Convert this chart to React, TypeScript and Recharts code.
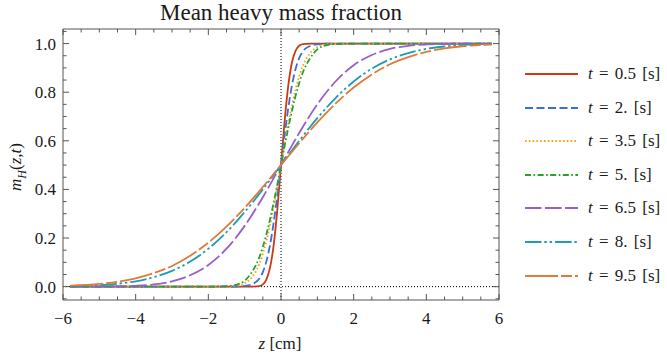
import React from 'react';
import { LineChart, Line, XAxis, YAxis, ReferenceLine } from 'recharts';

const FONT = "'Liberation Serif', 'Times New Roman'";
const FRAME = '#555';
const INK = '#1a1a1a';

// geometry of the plot frame (px)
const PLOT_TOP = 29;
const PLOT_BOTTOM = 300;
const PLOT_LEFT = 63;
const PLOT_RIGHT = 499;

// z samples (cm)
const zSteep = [-5.8, -2, -1.5, -1.25, -1, -0.8, -0.6, -0.5, -0.4, -0.3, -0.2, -0.1, 0,
  0.1, 0.2, 0.3, 0.4, 0.5, 0.6, 0.8, 1, 1.25, 1.5, 2, 5.8];
const zWide = [-5.8, -5, -4.5, -4, -3.5, -3, -2.5, -2, -1.5, -1, -0.5, 0,
  0.5, 1, 1.5, 2, 2.5, 3, 3.5, 4, 4.5, 5, 5.8];

// m_H
const m05 = [0, 0, 0, 0, 0, 0.0001, 0.0023, 0.009, 0.03, 0.079, 0.173, 0.319, 0.5,
  0.681, 0.827, 0.921, 0.97, 0.991, 0.9977, 0.9999, 1, 1, 1, 1, 1];
const m2 = [0, 0, 0, 0.0005, 0.003, 0.01, 0.032, 0.06, 0.105, 0.173, 0.265, 0.377, 0.5,
  0.623, 0.735, 0.827, 0.895, 0.94, 0.968, 0.99, 0.997, 0.9995, 1, 1, 1];
const m35 = [0, 0, 0.0005, 0.003, 0.014, 0.039, 0.092, 0.135, 0.189, 0.254, 0.329, 0.412, 0.5,
  0.588, 0.671, 0.746, 0.811, 0.865, 0.908, 0.961, 0.986, 0.997, 0.9995, 1, 1];
const m5 = [0, 0, 0.002, 0.007, 0.024, 0.06, 0.119, 0.163, 0.216, 0.278, 0.347, 0.422, 0.5,
  0.578, 0.653, 0.722, 0.784, 0.837, 0.881, 0.94, 0.976, 0.993, 0.998, 1, 1];
const m65 = [0, 0.0004, 0.0012, 0.0035, 0.009, 0.022, 0.047, 0.089, 0.156, 0.25, 0.368, 0.5,
  0.632, 0.75, 0.844, 0.911, 0.953, 0.978, 0.991, 0.9965, 0.9988, 0.9996, 1];
const m8 = [0.002, 0.0055, 0.012, 0.022, 0.039, 0.065, 0.103, 0.156, 0.224, 0.307, 0.4, 0.5,
  0.6, 0.693, 0.776, 0.844, 0.897, 0.935, 0.961, 0.978, 0.988, 0.9945, 0.998];
const m95 = [0.004, 0.011, 0.02, 0.034, 0.056, 0.085, 0.127, 0.181, 0.247, 0.324, 0.41, 0.5,
  0.59, 0.676, 0.753, 0.819, 0.873, 0.915, 0.944, 0.966, 0.98, 0.989, 0.996];

const tLabels = ['0.5', '2.', '3.5', '5.', '6.5', '8.', '9.5'];

const xTicks = [-6, -5.5, -5, -4.5, -4, -3.5, -3, -2.5, -2, -1.5, -1, -0.5, 0,
  0.5, 1, 1.5, 2, 2.5, 3, 3.5, 4, 4.5, 5, 5.5, 6];
const xLabels = [-6, -4, -2, 0, 2, 4, 6];
const yTicks = [-0.05, 0, 0.05, 0.1, 0.15, 0.2, 0.25, 0.3, 0.35, 0.4, 0.45, 0.5, 0.55,
  0.6, 0.65, 0.7, 0.75, 0.8, 0.85, 0.9, 0.95, 1, 1.05];
const yLabels = [0, 0.2, 0.4, 0.6, 0.8, 1];

const toPoints = (zs: number[], ms: number[]) => zs.map((z, i) => ({ z, m: ms[i] }));

const SERIES = [
  { id: 's05', color: '#cc3a12', dash: undefined, data: toPoints(zSteep, m05) },
  { id: 's2', color: '#3b6fd6', dash: '8 3.5', data: toPoints(zSteep, m2) },
  { id: 's35', color: '#f9a21a', dash: '1.6 2.2', data: toPoints(zSteep, m35) },
  { id: 's5', color: '#28a02a', dash: '6 2.5 1.6 2.5', data: toPoints(zSteep, m5) },
  { id: 's65', color: '#9660c8', dash: '16.5 3.5', data: toPoints(zWide, m65) },
  { id: 's8', color: '#1c9db5', dash: '16.5 2.8 2.4 3 2.4 3', data: toPoints(zWide, m8) },
  { id: 's95', color: '#e07a38', dash: '33 3 11 3', data: toPoints(zWide, m95) },
];

const near = (v: number, list: number[]) => list.some((l) => Math.abs(l - v) < 1e-6);
const minus = (s: string) => s.replace('-', '\u2212');

function XTick(props: any) {
  const { x, payload } = props;
  const v = payload.value as number;
  const major = near(v, xLabels);
  const len = major ? 6 : 3.5;
  return (
    <g>
      <line x1={x} x2={x} y1={PLOT_BOTTOM} y2={PLOT_BOTTOM - len} stroke={FRAME} />
      <line x1={x} x2={x} y1={PLOT_TOP} y2={PLOT_TOP + len} stroke={FRAME} />
      {major && (
        <text x={x} y={324} textAnchor="middle" fill={INK} style={{ fontSize: 17, fontFamily: FONT }}>
          {minus(String(v))}
        </text>
      )}
    </g>
  );
}

function YTick(props: any) {
  const { y, payload } = props;
  const v = payload.value as number;
  const major = near(v, yLabels);
  const len = major ? 6 : 3.5;
  return (
    <g>
      <line x1={PLOT_LEFT} x2={PLOT_LEFT + len} y1={y} y2={y} stroke={FRAME} />
      <line x1={PLOT_RIGHT} x2={PLOT_RIGHT - len} y1={y} y2={y} stroke={FRAME} />
      {major && (
        <text x={56} y={y + 6} textAnchor="end" fill={INK} style={{ fontSize: 17, fontFamily: FONT }}>
          {v.toFixed(1)}
        </text>
      )}
    </g>
  );
}

function LegendBox() {
  return (
    <div style={{ position: 'absolute', left: 0, top: 0 }}>
      {SERIES.map((s, i) => {
        const cy = 74 + i * 33.6;
        return (
          <div key={s.id} style={{ position: 'absolute', left: 520, top: cy - 12, height: 24, width: 147 }}>
            <svg width={62} height={24} style={{ position: 'absolute', left: 0, top: 0 }}>
              <line x1={5} x2={58} y1={12} y2={12} stroke={s.color} strokeWidth={1.8} strokeDasharray={s.dash} />
            </svg>
            <div style={{
              position: 'absolute', left: 68, top: 1, fontFamily: FONT, fontSize: 17,
              color: INK, whiteSpace: 'nowrap', lineHeight: '22px', wordSpacing: '2px',
            }}>
              <i>t</i>{' = '}{tLabels[i]} [s]
            </div>
          </div>
        );
      })}
    </div>
  );
}

export default function App() {
  return (
    <div style={{ position: 'absolute', left: 0, top: 0, width: 667, height: 364, background: '#fff', fontFamily: FONT }}>
      <div style={{
        position: 'absolute', left: 60, width: 442, top: 0, textAlign: 'center',
        fontFamily: FONT, fontSize: 23, color: INK, lineHeight: '26px',
      }}>
        Mean heavy mass fraction
      </div>
      <LineChart width={667} height={364} margin={{ top: PLOT_TOP, right: 667 - PLOT_RIGHT, bottom: 0, left: 0 }}>
        <XAxis
          dataKey="z" type="number" domain={[-6, 6]} allowDataOverflow ticks={xTicks} interval={0}
          height={364 - PLOT_BOTTOM} tickSize={0} tickMargin={0} tick={<XTick />}
          axisLine={{ stroke: FRAME }} tickLine={false}
        />
        <YAxis
          type="number" domain={[-0.055, 1.06]} allowDataOverflow ticks={yTicks} interval={0}
          width={PLOT_LEFT} tickSize={0} tickMargin={0} tick={<YTick />}
          axisLine={{ stroke: FRAME }} tickLine={false}
        />
        <ReferenceLine y={1.06} stroke={FRAME} />
        <ReferenceLine x={6} stroke={FRAME} />
        <ReferenceLine x={0} stroke="#000" strokeDasharray="1 2" />
        <ReferenceLine y={0} stroke="#000" strokeDasharray="1 2" />
        {SERIES.map((s) => (
          <Line
            key={s.id} data={s.data} dataKey="m" type="monotone" stroke={s.color}
            strokeWidth={1.8} strokeDasharray={s.dash} dot={false} activeDot={false}
            isAnimationActive={false}
          />
        ))}
      </LineChart>
      <div style={{
        position: 'absolute', left: 18, top: 167, transform: 'translate(-50%, -50%) rotate(-90deg)',
        fontFamily: FONT, fontSize: 17, color: INK, whiteSpace: 'nowrap',
      }}>
        <i>m</i><sub style={{ fontSize: 12 }}><i>H</i></sub>(<i>z</i>,<i>t</i>)
      </div>
      <div style={{
        position: 'absolute', left: 200, width: 160, top: 333, textAlign: 'center',
        fontFamily: FONT, fontSize: 17, color: INK, lineHeight: '22px',
      }}>
        <i>z</i> [cm]
      </div>
      <LegendBox />
    </div>
  );
}
